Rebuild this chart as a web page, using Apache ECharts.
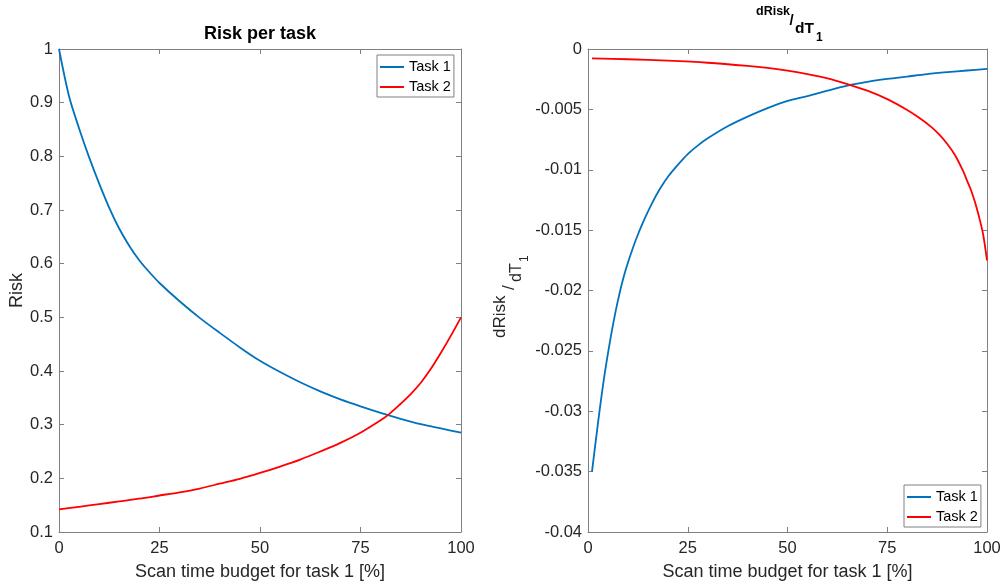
<!DOCTYPE html>
<html>
<head>
<meta charset="utf-8">
<script src="https://cdn.jsdelivr.net/npm/echarts@6/dist/echarts.min.js"></script>
<style>
  html, body { margin: 0; padding: 0; background: #fff; }
  #chart { width: 1007px; height: 586px; }
</style>
</head>
<body>
<div id="chart"></div>
<script>
// Scan time budget for task 1 [%] (x positions of the sampled points)
const xRisk1 = [0, 2.5, 5, 7.5, 10, 12.5, 15, 17.5, 20, 22.5, 25, 30, 35, 40, 45, 50, 55, 60, 65, 70, 75, 80, 85, 90, 95, 100];
const risk1  = [1.000, 0.912, 0.852, 0.798, 0.749, 0.704, 0.665, 0.633, 0.606, 0.584, 0.564, 0.530, 0.499, 0.471, 0.444, 0.419, 0.398, 0.379, 0.362, 0.347, 0.334, 0.322, 0.311, 0.301, 0.293, 0.285];

const xRisk2 = [0, 5, 10, 15, 20, 25, 30, 35, 40, 45, 50, 55, 60, 65, 70, 75, 80, 82.5, 85, 87.5, 90, 92.5, 95, 97.5, 100];
const risk2  = [0.142, 0.147, 0.152, 0.157, 0.162, 0.168, 0.174, 0.181, 0.190, 0.199, 0.210, 0.222, 0.235, 0.250, 0.266, 0.285, 0.308, 0.322, 0.339, 0.357, 0.378, 0.404, 0.434, 0.466, 0.500];

// Derivative of risk with respect to T1
const xDer1 = [1, 2, 3, 4, 5, 6, 7, 8, 9, 10, 12, 14, 16, 18, 20, 22.5, 25, 27.5, 30, 35, 40, 45, 50, 55, 60, 65, 70, 75, 80, 85, 90, 95, 100];
const der1  = [-0.0350, -0.0323, -0.0297, -0.0273, -0.0252, -0.0233, -0.0216, -0.0201, -0.0188, -0.0177, -0.0158, -0.0142, -0.0128, -0.0116, -0.0106, -0.0096, -0.0087, -0.0080, -0.0074, -0.0064, -0.0056, -0.0049, -0.0043, -0.0039, -0.00345, -0.00303, -0.00272, -0.00248, -0.00228, -0.00208, -0.00192, -0.00178, -0.00165];

const xDer2 = [1, 10, 20, 30, 40, 45, 50, 55, 60, 65, 70, 75, 80, 83, 86, 88, 90, 92, 94, 95, 96, 97, 98, 99, 100];
const der2  = [-0.00077, -0.00085, -0.00097, -0.00114, -0.00140, -0.00157, -0.00180, -0.00208, -0.00243, -0.00290, -0.00345, -0.00415, -0.00505, -0.00570, -0.00645, -0.00708, -0.00785, -0.00880, -0.01010, -0.01090, -0.01170, -0.01270, -0.01390, -0.01530, -0.01750];

const xTicks = { min: 0, max: 100, interval: 25 };
const riskTicks = { min: 0.1, max: 1, interval: 0.1 };
const derTicks = { min: -0.04, max: 0, interval: 0.005 };

const seriesNames = ['Task 1', 'Task 2'];
const xLabel = 'Scan time budget for task 1 [%]';

const FONT = '"Liberation Sans", Arial, Helvetica, sans-serif';
const AXIS = '#808080';
const TXT = '#262626';
const BLUE = '#0072BD';
const RED = '#FF0000';

const zip = (xs, ys) => xs.map((x, i) => [x, ys[i]]);

const grids = [
  { left: 59, top: 49, width: 402, height: 483 },
  { left: 588, top: 49, width: 399, height: 483 }
];

function xAxisFor(gridIndex, position, withLabels) {
  return {
    gridIndex, type: 'value', position,
    min: xTicks.min, max: xTicks.max, interval: xTicks.interval,
    axisLine: { show: true, onZero: false, lineStyle: { color: AXIS, width: 1 } },
    axisTick: { show: true, inside: true, length: 5, lineStyle: { color: AXIS } },
    axisLabel: { show: withLabels, color: TXT, fontSize: 16.5, fontFamily: FONT, margin: 8 },
    splitLine: { show: false },
    name: withLabels ? xLabel : '',
    nameLocation: 'middle', nameGap: 31,
    nameTextStyle: { color: TXT, fontSize: 18, fontFamily: FONT }
  };
}

function yAxisFor(gridIndex, position, withLabels, ticks, name) {
  return {
    gridIndex, type: 'value', position,
    min: ticks.min, max: ticks.max, interval: ticks.interval,
    axisLine: { show: true, onZero: false, lineStyle: { color: AXIS, width: 1 } },
    axisTick: { show: true, inside: true, length: 5, lineStyle: { color: AXIS } },
    axisLabel: { show: withLabels, color: TXT, fontSize: 16.5, fontFamily: FONT, margin: 6 },
    splitLine: { show: false },
    name: name || '',
    nameLocation: 'middle', nameGap: 33, nameRotate: 90,
    nameTextStyle: { color: TXT, fontSize: 18, fontFamily: FONT }
  };
}

function lineSeries(name, color, xi, yi, xs, ys) {
  return {
    name, type: 'line', xAxisIndex: xi, yAxisIndex: yi,
    data: zip(xs, ys),
    showSymbol: false, symbol: 'none',
    smooth: 0.3,
    lineStyle: { color, width: 1.8 },
    itemStyle: { color },
    emphasis: { disabled: true }
  };
}

function legendAt(left, top) {
  return {
    data: seriesNames, orient: 'vertical', left, top,
    icon: 'rect', itemWidth: 24, itemHeight: 2, itemGap: 4,
    textStyle: { color: '#000', fontSize: 14.5, fontFamily: FONT, lineHeight: 16 },
    borderColor: AXIS, borderWidth: 1, padding: [4, 3, 2, 3],
    backgroundColor: '#fff', selectedMode: false
  };
}

const boldTxt = (size) => 'bold ' + size + 'px ' + FONT;
const normTxt = (size) => size + 'px ' + FONT;

function textEl(text, x, y, font, fill, align) {
  return {
    type: 'text', x, y, silent: true,
    style: { text, font, fill, textAlign: align || 'left', textVerticalAlign: 'middle', align: align || 'left', verticalAlign: 'middle' }
  };
}

const option = {
  animation: false,
  backgroundColor: '#fff',
  grid: grids,
  xAxis: [
    xAxisFor(0, 'bottom', true), xAxisFor(0, 'top', false),
    xAxisFor(1, 'bottom', true), xAxisFor(1, 'top', false)
  ],
  yAxis: [
    yAxisFor(0, 'left', true, riskTicks, 'Risk'), yAxisFor(0, 'right', false, riskTicks),
    yAxisFor(1, 'left', true, derTicks), yAxisFor(1, 'right', false, derTicks)
  ],
  legend: [legendAt(377, 55), legendAt(904, 485)],
  series: [
    lineSeries(seriesNames[0], BLUE, 0, 0, xRisk1, risk1),
    lineSeries(seriesNames[1], RED, 0, 0, xRisk2, risk2),
    lineSeries(seriesNames[0], BLUE, 2, 2, xDer1, der1),
    lineSeries(seriesNames[1], RED, 2, 2, xDer2, der2)
  ],
  graphic: [
    textEl('Risk per task', 260, 34, boldTxt(18), '#000', 'center'),
    {
      // dRisk / dT_1 title with raised numerator and lowered denominator
      type: 'group', x: 756, y: 0, silent: true,
      children: [
        textEl('dRisk', 0, 12, boldTxt(12.5), '#000'),
        textEl('/', 33.5, 21, boldTxt(15), '#000'),
        textEl('dT', 39, 29, boldTxt(15.5), '#000'),
        textEl('1', 60, 37.5, boldTxt(12), '#000')
      ]
    },
    {
      // rotated y label for the derivative panel
      type: 'group', x: 500, y: 338, rotation: Math.PI / 2, silent: true,
      children: [
        textEl('dRisk', 0, 0, normTxt(17), TXT),
        textEl('/', 48, 9, normTxt(17), TXT),
        textEl('dT', 56, 17, normTxt(16), TXT),
        textEl('1', 76, 25, normTxt(12), TXT)
      ]
    }
  ]
};

const chart = echarts.init(document.getElementById('chart'), null, { renderer: 'canvas' });
chart.setOption(option);
</script>
</body>
</html>
